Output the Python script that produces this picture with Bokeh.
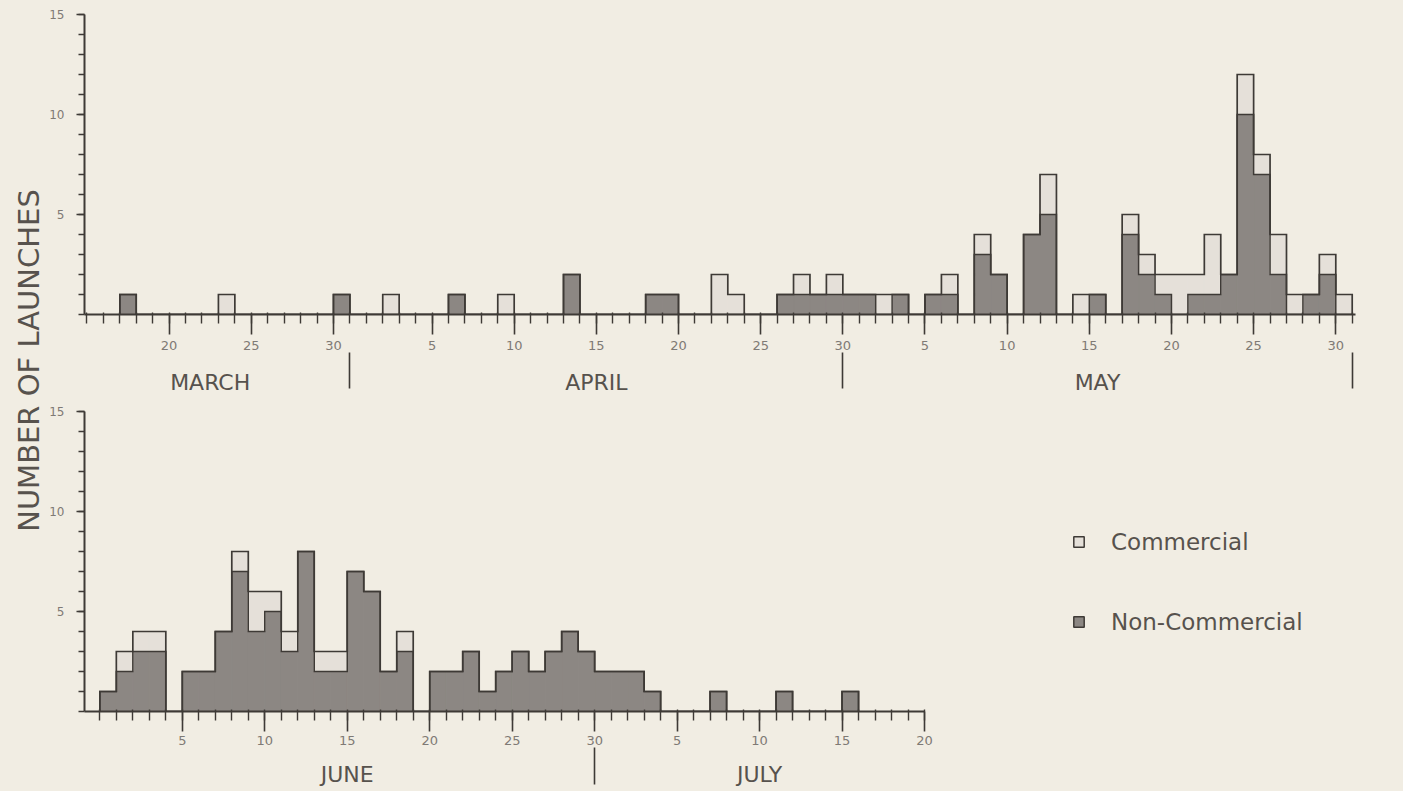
import numpy as np
from bokeh.plotting import figure
from bokeh.layouts import row, column
from bokeh.models import FixedTicker, Label, Legend, LegendItem, LinearAxis
from bokeh.embed import file_html
from bokeh.resources import INLINE

# ---------------- data ----------------
# Upper panel: day index counted from 28 Feb (March d -> d, April d -> 31+d, May d -> 61+d)
top_day = [18, 24, 31, 34, 38, 41, 45, 50, 51, 54, 55, 58, 59, 60, 61, 62, 63, 64, 65, 67,
           68, 70, 71, 73, 74, 76, 77, 79, 80, 81, 82, 83, 84, 85, 86, 87, 88, 89, 90, 91, 92]
top_noncom = [1, 0, 1, 0, 1, 0, 2, 1, 1, 0, 0, 1, 1, 1, 1, 1, 1, 0, 1, 1,
              1, 3, 2, 4, 5, 0, 1, 4, 2, 1, 0, 1, 1, 2, 10, 7, 2, 0, 1, 2, 0]
top_com = [0, 1, 0, 1, 0, 1, 0, 0, 0, 2, 1, 0, 1, 0, 1, 0, 0, 1, 0, 0,
           1, 1, 0, 0, 2, 1, 0, 1, 1, 1, 2, 1, 3, 0, 2, 1, 2, 1, 0, 1, 1]
top_tick_days = [20, 25, 30, 36, 41, 46, 51, 56, 61, 66, 71, 76, 81, 86, 91]
top_tick_labels = ["20", "25", "30", "5", "10", "15", "20", "25", "30",
                   "5", "10", "15", "20", "25", "30"]
top_months = ["MARCH", "APRIL", "MAY"]
top_month_start = [14, 31, 61]
top_month_end = [31, 61, 92]

# Lower panel: June d -> d, July d -> 30+d
bot_day = [1, 2, 3, 4, 6, 7, 8, 9, 10, 11, 12, 13, 14, 15, 16, 17, 18, 19, 21, 22,
           23, 24, 25, 26, 27, 28, 29, 30, 31, 32, 33, 34, 38, 42, 46]
bot_noncom = [1, 2, 3, 3, 2, 2, 4, 7, 4, 5, 3, 8, 2, 2, 7, 6, 2, 3, 2, 2,
              3, 1, 2, 3, 2, 3, 4, 3, 2, 2, 2, 1, 1, 1, 1]
bot_com = [0, 1, 1, 1, 0, 0, 0, 1, 2, 1, 1, 0, 1, 1, 0, 0, 0, 1, 0, 0,
           0, 0, 0, 0, 0, 0, 0, 0, 0, 0, 0, 0, 0, 0, 0]
bot_tick_days = [5, 10, 15, 20, 25, 30, 35, 40, 45, 50]
bot_tick_labels = ["5", "10", "15", "20", "25", "30", "5", "10", "15", "20"]
bot_months = ["JUNE", "JULY"]
bot_month_start = [0, 30]
bot_month_end = [30, 50]
bot_month_seps = [30]

y_ticks = [5, 10, 15]

# ---------------- style ----------------
BG = "#f1ede3"
DARK = "#8c8783"
LIGHT = "#e5e0d9"
EDGE = "#3e3a36"
TEXT = "#57524d"
TICKTEXT = "#7f7a75"
FONT = "DejaVu Sans"


def step_path(days, heights):
    lo, hi = min(days) - 1, max(days)
    dense = np.zeros(hi - lo)
    for d, h in zip(days, heights):
        dense[d - 1 - lo] = h
    edges = np.arange(lo, hi + 1)
    xs = np.repeat(edges, 2)
    ys = np.concatenate([[0], np.repeat(dense, 2), [0]])
    return xs, ys


def style_fig(p):
    p.background_fill_color = None
    p.border_fill_color = None
    p.outline_line_color = None
    p.grid.visible = False


def style_axes(p, tick_days, tick_labels, xbounds, standoff):
    xa = p.xaxis[0]
    if xbounds == "auto":
        lo, hi = int(np.ceil(p.x_range.start)), int(np.floor(p.x_range.end))
    else:
        lo, hi = int(np.ceil(xbounds[0])), int(np.floor(xbounds[1]))
    xa.ticker = FixedTicker(ticks=tick_days, minor_ticks=list(range(lo, hi + 1)))
    xa.major_label_overrides = {d: s for d, s in zip(tick_days, tick_labels)}
    xa.bounds = xbounds
    xa.axis_line_color = EDGE
    xa.axis_line_width = 2
    xa.major_tick_line_color = EDGE
    xa.major_tick_line_width = 1.6
    xa.minor_tick_line_color = EDGE
    xa.minor_tick_line_width = 1.4
    xa.major_tick_out = 20
    xa.major_tick_in = 0
    xa.minor_tick_out = 9
    xa.minor_tick_in = 2
    xa.major_label_standoff = standoff
    xa.major_label_text_font = FONT
    xa.major_label_text_font_size = "13px"
    xa.major_label_text_color = TICKTEXT

    ya = p.yaxis[0]
    ya.ticker = FixedTicker(ticks=y_ticks, minor_ticks=list(range(0, 16)))
    ya.bounds = (0, 15)
    ya.axis_line_color = EDGE
    ya.axis_line_width = 2
    ya.major_tick_line_color = EDGE
    ya.major_tick_line_width = 1.5
    ya.minor_tick_line_color = EDGE
    ya.minor_tick_line_width = 1.3
    ya.major_tick_out = 8
    ya.major_tick_in = 0
    ya.minor_tick_out = 6
    ya.minor_tick_in = 0
    ya.major_label_standoff = 12
    ya.major_label_text_font = FONT
    ya.major_label_text_font_size = "12px"
    ya.major_label_text_color = TICKTEXT


def month_axis(p, names, starts, ends, seps, sep_len, standoff):
    mids = [(s + e) / 2 for s, e in zip(starts, ends)]
    ax = LinearAxis(ticker=FixedTicker(ticks=mids, minor_ticks=list(seps)),
                    major_label_overrides={m: n for m, n in zip(mids, names)},
                    axis_line_color=None, major_tick_line_color=None,
                    major_tick_out=0, major_tick_in=0,
                    minor_tick_line_color=EDGE, minor_tick_line_width=1.6,
                    minor_tick_out=sep_len, minor_tick_in=0,
                    major_label_standoff=standoff,
                    major_label_text_font=FONT, major_label_text_font_size="22px",
                    major_label_text_color=TEXT)
    p.add_layout(ax, "below")


def draw_bars(p, days, noncom, com):
    left = [d - 1 for d in days]
    right = list(days)
    total = [a + b for a, b in zip(noncom, com)]
    p.quad(left=left, right=right, bottom=[0] * len(days), top=noncom,
           fill_color=DARK, line_color=DARK, line_width=1)
    p.quad(left=left, right=right, bottom=noncom, top=total,
           fill_color=LIGHT, line_color=LIGHT, line_width=1)
    xs, ys = step_path(days, total)
    p.line(xs, ys, line_color=EDGE, line_width=1.7, line_join="miter")
    xs, ys = step_path(days, noncom)
    p.line(xs, ys, line_color=EDGE, line_width=1.5, line_join="miter")


# ---------------- upper panel ----------------
top = figure(width=1357, height=400, x_range=(14.85, 92.2), y_range=(0, 15.1),
             output_backend="svg", toolbar_location=None,
             min_border_left=36, min_border_right=48, min_border_top=12, min_border_bottom=86)
style_fig(top)
style_axes(top, top_tick_days, top_tick_labels, "auto", 6)
month_axis(top, top_months, top_month_start, top_month_end, top_month_end, 36, -19)
draw_bars(top, top_day, top_noncom, top_com)

# ---------------- lower panel ----------------
bot = figure(width=1357, height=391, x_range=(-0.93, 76.13), y_range=(0, 15.1),
             output_backend="svg", toolbar_location=None,
             min_border_left=36, min_border_right=48, min_border_top=9, min_border_bottom=80)
style_fig(bot)
style_axes(bot, bot_tick_days, bot_tick_labels, (-0.93, 50), 4)
month_axis(bot, bot_months, bot_month_start, bot_month_end, bot_month_seps, 37, -23)
draw_bars(bot, bot_day, bot_noncom, bot_com)

nan = [float("nan")]
leg_light = bot.quad(left=nan, right=nan, top=nan, bottom=nan, fill_color=LIGHT,
                     line_color=EDGE, line_width=1.5)
leg_dark = bot.quad(left=nan, right=nan, top=nan, bottom=nan, fill_color=DARK,
                    line_color=EDGE, line_width=1.5)
legend = Legend(items=[LegendItem(label="Commercial", renderers=[leg_light]),
                       LegendItem(label="Non-Commercial", renderers=[leg_dark])],
                location=(988, 76), orientation="vertical",
                glyph_width=13, glyph_height=13, label_standoff=26,
                label_height=27, spacing=53, padding=0, margin=0,
                border_line_color=None, background_fill_alpha=0,
                label_text_font=FONT, label_text_font_size="23px",
                label_text_color=TEXT)
bot.add_layout(legend)

# ---------------- shared y label ----------------
strip = figure(width=46, height=791, x_range=(0, 1), y_range=(0, 1),
               x_axis_type=None, y_axis_type=None, min_border=0,
               output_backend="svg", toolbar_location=None)
style_fig(strip)
strip.add_layout(Label(x=28, y=431, x_units="screen", y_units="screen",
                       text="NUMBER OF LAUNCHES", angle=np.pi / 2,
                       text_align="center", text_baseline="middle",
                       text_font=FONT, text_font_size="29px",
                       text_color=TEXT))

layout = row(strip, column(top, bot))

html = file_html(layout, INLINE, title="Number of launches")
html = html.replace("</head>",
                    "<style>html, body { background-color: %s !important; }</style></head>" % BG, 1)
open("out.html", "w").write(html)
